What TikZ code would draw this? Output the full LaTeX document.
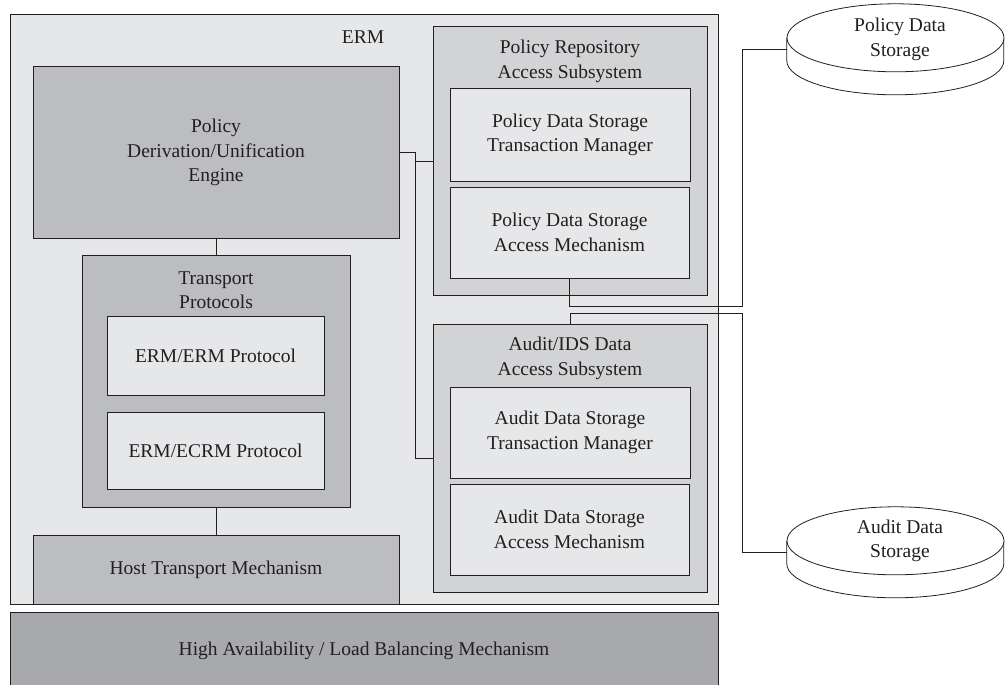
\documentclass[tikz,border=0pt]{standalone}
\usepackage{fontspec}
\setmainfont{Liberation Serif}
\definecolor{ermfill}{HTML}{E6E7E8}
\definecolor{darkfill}{HTML}{BCBDC0}
\definecolor{midfill}{HTML}{D1D3D4}
\definecolor{hafill}{HTML}{A7A9AC}
\definecolor{ink}{HTML}{231F20}
\begin{document}
\begin{tikzpicture}[x=1pt,y=-1pt,
  box/.style={draw=ink, line width=1pt, rectangle, inner sep=0pt, outer sep=0pt},
  txt/.style={align=center, inner sep=0pt, text=ink, font=\fontsize{19.5}{24.5}\selectfont},
  conn/.style={draw=ink, line width=1pt},
  lbl/.style={txt}]
\useasboundingbox (0,0) rectangle (1007,685);
\fill[white] (0,0) rectangle (1007,685);
% ERM container
\node[box, fill=ermfill, minimum width=708pt, minimum height=589pt] (erm) at (364,309.5) {};
\node[lbl] (ermt) at (363,37) {ERM};
% left column
\node[box, fill=darkfill, minimum width=366pt, minimum height=171pt] (eng) at (216,152.5) {};
\node[txt] (engt) at (216,152.5) {Policy\\Derivation/Unification\\Engine};
\node[box, fill=darkfill, minimum width=268pt, minimum height=252pt] (tp) at (216,381) {};
\node[txt] (tpt) at (216,290) {Transport\\Protocols};
\node[box, fill=ermfill, minimum width=217pt, minimum height=79pt] (ee) at (215.5,355.5) {};
\node[txt] (eet) at (215.5,355.5) {ERM/ERM Protocol};
\node[box, fill=ermfill, minimum width=217pt, minimum height=77pt] (ec) at (215.5,450.5) {};
\node[txt] (ect) at (215.5,450.5) {ERM/ECRM Protocol};
\node[box, fill=darkfill, minimum width=366pt, minimum height=69pt] (host) at (216,569.5) {};
\node[txt] (hostt) at (216,569.5) {Host Transport Mechanism};
% right column
\node[box, fill=midfill, minimum width=274pt, minimum height=268pt] (repo) at (570,161) {};
\node[txt] (repot) at (570,61.5) {Policy Repository\\Access Subsystem};
\node[box, fill=ermfill, minimum width=240pt, minimum height=92pt] (ptm) at (570,135) {};
\node[txt] (ptmt) at (570,135) {Policy Data Storage\\Transaction Manager};
\node[box, fill=ermfill, minimum width=239pt, minimum height=91pt] (pam) at (569.5,232.5) {};
\node[txt] (pamt) at (569.5,232.5) {Policy Data Storage\\Access Mechanism};
\node[box, fill=midfill, minimum width=274pt, minimum height=268pt] (aud) at (570,458) {};
\node[txt] (audt) at (570,358.5) {Audit/IDS Data\\Access Subsystem};
\node[box, fill=ermfill, minimum width=240pt, minimum height=91pt] (atm) at (570,432.5) {};
\node[txt] (atmt) at (570,432.5) {Audit Data Storage\\Transaction Manager};
\node[box, fill=ermfill, minimum width=239pt, minimum height=91pt] (aam) at (569.5,529.5) {};
\node[txt] (aamt) at (569.5,529.5) {Audit Data Storage\\Access Mechanism};
% HA bar
\node[box, fill=hafill, minimum width=708pt, minimum height=78pt] (ha) at (364,651) {};
\node[txt] (hat) at (364,651) {High Availability / Load Balancing Mechanism};
% storages
\node[inner sep=0pt, minimum width=217pt, minimum height=91pt] (pds) at (895.5,49.5) {};
\draw[ink, line width=0.8pt, fill=white] (pds.north west) ++(0,34) -- ++(0,23) arc[start angle=180, end angle=360, x radius=108.5pt, y radius=34pt] -- ++(0,-23);
\draw[ink, line width=0.8pt, fill=white] (pds.north) ++(0,34) ellipse[x radius=108.5pt, y radius=34pt];
\node[txt] (pdst) at (900,39.5) {Policy Data\\Storage};
\node[inner sep=0pt, minimum width=217pt, minimum height=91pt] (ads) at (895.5,552.5) {};
\draw[ink, line width=0.8pt, fill=white] (ads.north west) ++(0,34) -- ++(0,23) arc[start angle=180, end angle=360, x radius=108.5pt, y radius=34pt] -- ++(0,-23);
\draw[ink, line width=0.8pt, fill=white] (ads.north) ++(0,34) ellipse[x radius=108.5pt, y radius=34pt];
\node[txt] (adst) at (900,541) {Audit Data\\Storage};
% connectors
\coordinate (jx) at (415,0);
\coordinate (c1) at (742,306);
\coordinate (c2) at (742,313);
\draw[conn] (eng.south) -- (tp.north);
\draw[conn] (tp.south) -- (host.north);
\draw[conn] (eng.east) -- (eng.east -| jx) |- (aud.west);
\draw[conn] (repo.west) -- (repo.west -| jx);
\draw[conn] (pam.south) |- (c1) |- (pds.west);
\draw[conn] (aud.north) |- (c2) |- (ads.west);
\end{tikzpicture}
\end{document}
